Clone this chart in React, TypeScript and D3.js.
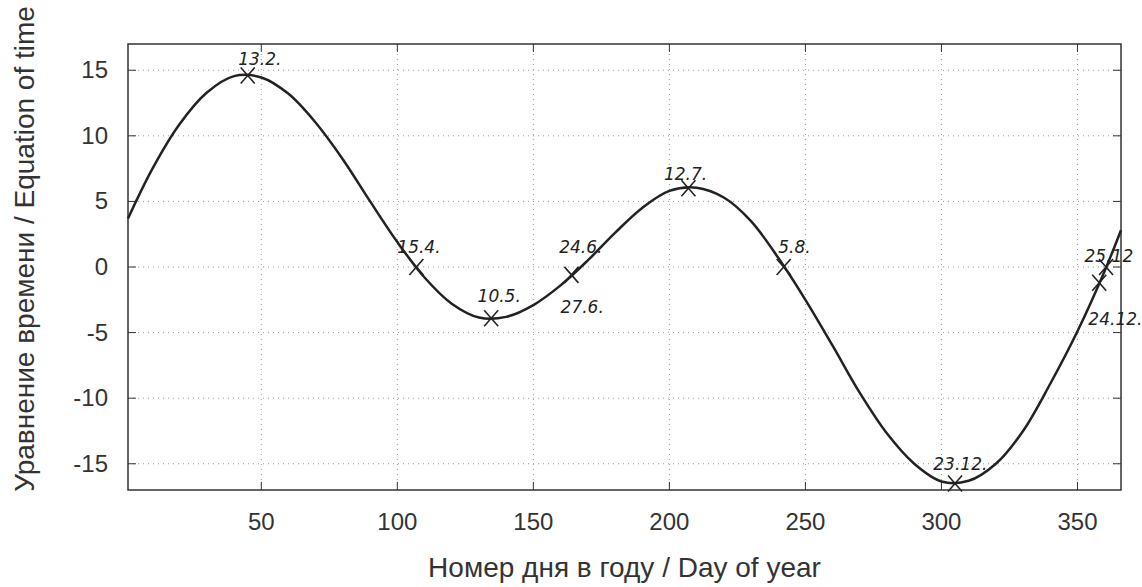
import React, { useEffect } from 'react';
import * as d3 from 'd3';

// curve: day of year -> minutes
const days = [1, 10, 20, 30, 40, 50, 60, 70, 80, 90, 100, 110, 120, 130, 140, 150, 160, 170, 180, 190, 200, 210, 220, 230, 240, 250, 260, 270, 280, 290, 300, 310, 320, 330, 340, 350, 360, 366];
const minutes = [3.7, 7.5, 10.9, 13.3, 14.55, 14.45, 13.2, 11.0, 8.2, 5.0, 1.9, -0.8, -2.8, -3.85, -3.8, -2.9, -1.4, 0.5, 2.6, 4.5, 5.8, 6.05, 5.3, 3.5, 0.7, -2.5, -6.0, -9.6, -12.7, -15.0, -16.35, -16.3, -15.0, -12.5, -8.9, -4.9, -0.3, 2.8];

// hand-written marks
const markDays = [45, 107, 134.5, 164, 207, 242, 305, 360.5, 358];
const markValues = [14.6, 0, -3.9, -0.6, 6.0, 0, -16.5, 0, -1.2];
const noteTexts = ['13.2.', '15.4.', '10.5.', '24.6.', '27.6.', '12.7.', '5.8.', '23.12.', '25.12', '24.12.'];
const noteDays = [41.5, 100, 129.5, 159.5, 160, 198, 240, 297, 352.6, 354];
const noteValues = [15.4, 1.1, -2.7, 1.1, -3.5, 6.6, 1.1, -15.5, 0.4, -4.4];

const xTicks = [50, 100, 150, 200, 250, 300, 350];
const yTicks = [15, 10, 5, 0, -5, -10, -15];

const width = 1142;
const height = 587;
const margin = { t: 44, b: 97, l: 128, r: 21 };

const App = () => {
    useEffect(() => {
        document.body.style.margin = '0';
    }, []);

    const x = d3.scaleLinear().domain([1, 366]).range([margin.l, width - margin.r]);
    const y = d3.scaleLinear().domain([-17, 17]).range([height - margin.b, margin.t]);

    const line = d3.line<number>()
        .x((d, i) => x(days[i]))
        .y(d => y(d))
        .curve(d3.curveCatmullRom.alpha(0.5));

    const font = 'Liberation Sans, Arial, sans-serif';
    const hand = 'DejaVu Sans, sans-serif';

    //y grid, ticks and text
    const yAxis = yTicks.map(d => (
        <g key={d} transform={`translate(0,${y(d)})`}>
            <line x1={margin.l} x2={width - margin.r} y1={0} y2={0} stroke="#999" strokeWidth={1} strokeDasharray="1,4"/>
            <line x1={margin.l} x2={margin.l + 8} y1={0} y2={0} stroke="#333"/>
            <line x1={width - margin.r - 8} x2={width - margin.r} y1={0} y2={0} stroke="#333"/>
            <text x={margin.l - 20} y={8} textAnchor="end" fontSize={24} fill="#333" fontFamily={font}>{d}</text>
        </g>
    ));

    //x grid, ticks and text
    const xAxis = xTicks.map(d => (
        <g key={d} transform={`translate(${x(d)},0)`}>
            <line x1={0} x2={0} y1={margin.t} y2={height - margin.b} stroke="#999" strokeWidth={1} strokeDasharray="1,4"/>
            <line x1={0} x2={0} y1={height - margin.b - 8} y2={height - margin.b} stroke="#333"/>
            <line x1={0} x2={0} y1={margin.t} y2={margin.t + 8} stroke="#333"/>
            <text x={0} y={height - margin.b + 40} textAnchor="middle" fontSize={24} fill="#333" fontFamily={font}>{d}</text>
        </g>
    ));

    const marks = markDays.map((d, i) => {
        const cx = x(d);
        const cy = y(markValues[i]);
        return (
            <g key={i} stroke="#222" strokeWidth={1.6}>
                <line x1={cx - 7} x2={cx + 7} y1={cy - 8} y2={cy + 8}/>
                <line x1={cx - 7} x2={cx + 7} y1={cy + 8} y2={cy - 8}/>
            </g>
        );
    });

    const notes = noteTexts.map((t, i) => (
        <text key={i} x={x(noteDays[i])} y={y(noteValues[i])} fontSize={17} fill="#222"
            fontFamily={hand} fontStyle="italic">{t}</text>
    ));

    return (
        <svg width={width} height={height} style={{ display: 'block', background: '#fff' }}>
            <g>{yAxis}</g>
            <g>{xAxis}</g>
            <rect x={margin.l} y={margin.t} width={width - margin.l - margin.r} height={height - margin.t - margin.b}
                fill="none" stroke="#333" strokeWidth={1.5}/>
            <path d={line(minutes) || ''} fill="none" stroke="#222" strokeWidth={2.5}/>
            <g>{marks}</g>
            <g>{notes}</g>
            <text x={(margin.l + width - margin.r) / 2} y={height - 10} textAnchor="middle" fontSize={28}
                fill="#333" fontFamily={font}>Номер дня в году / Day of year</text>
            <text transform={`translate(34,${(margin.t + height - margin.b) / 2 - 18}) rotate(-90)`} textAnchor="middle"
                fontSize={28} fill="#333" fontFamily={font}>Уравнение времени / Equation of time</text>
        </svg>
    );
};

export default App;
